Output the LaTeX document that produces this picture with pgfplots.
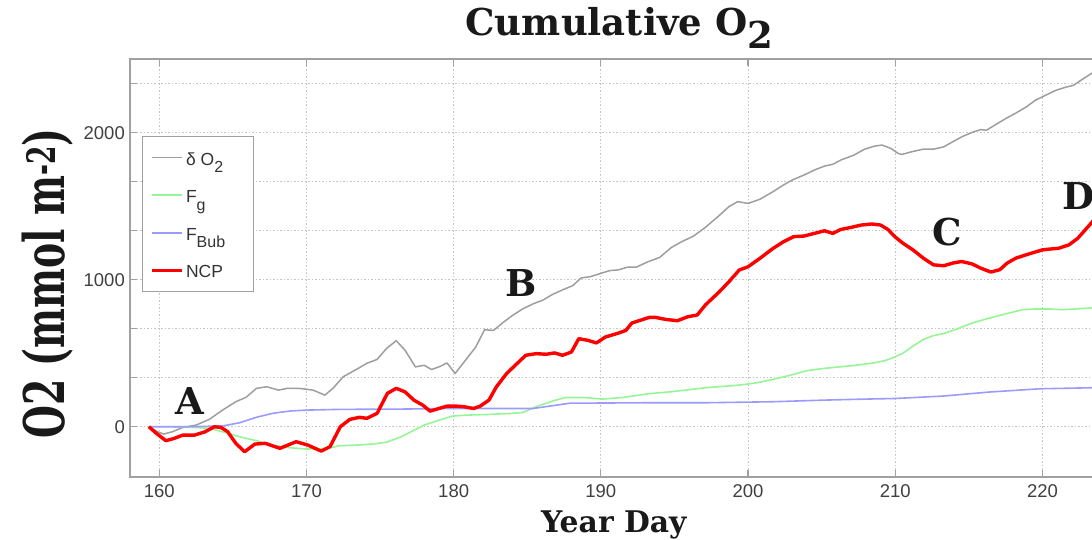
\documentclass[border=0pt]{standalone}
\usepackage{fontspec}
\usepackage{graphicx}
\usepackage{pgfplots}
\pgfplotsset{compat=1.18}
\setmainfont{DejaVu Serif}
\newfontfamily\sansf{Liberation Sans}
\definecolor{cgray}{RGB}{158,158,158}
\definecolor{cgreen}{RGB}{150,245,150}
\definecolor{cblue}{RGB}{155,155,255}
\definecolor{cred}{RGB}{255,0,0}
\definecolor{axgray}{RGB}{160,160,160}
\newcommand\lsub[1]{\raisebox{-0.42em}{\fontsize{16}{16}\selectfont #1}}

\pgfplotstableread{
d v
159.3 0
159.8 -45
160.45 -95
161.0 -80
161.6 -57
162.4 -57
163.1 -35
163.75 0
164.2 -5
164.65 -34
165.2 -113
165.8 -170
166.5 -118
167.2 -113
168.2 -147
169.3 -102
170.1 -125
171.0 -166
171.6 -136
172.3 0
172.95 50
173.6 64
174.1 57
174.8 91
175.5 227
176.1 261
176.7 237
177.3 181
177.9 147
178.4 106
179.0 124
179.55 140
180.2 140
180.7 136
181.35 124
181.8 140
182.4 181
182.9 271
183.6 362
184.3 429
184.9 486
185.6 497
186.3 493
186.85 502
187.4 486
188.0 508
188.5 599
189.1 588
189.7 570
190.3 610
191.2 637
191.7 655
192.1 705
192.8 728
193.3 744
193.7 744
194.4 730
195.2 721
195.9 748
196.55 760
197.1 828
198.05 918
198.7 986
199.4 1066
200.0 1088
200.8 1145
201.7 1213
202.4 1258
203.1 1293
203.8 1297
204.5 1315
205.2 1333
205.75 1315
206.3 1342
207.0 1356
207.7 1372
208.4 1379
209.0 1372
209.5 1342
210.0 1290
210.5 1250
211.2 1203
211.9 1147
212.6 1101
213.3 1095
213.9 1113
214.5 1124
215.2 1108
215.8 1079
216.5 1052
217.1 1068
217.6 1113
218.2 1147
219.1 1176
220.0 1203
220.45 1208
221.1 1214
221.8 1237
222.4 1282
222.8 1327
223.3 1384
223.8 1440
}\ncp

\pgfplotstableread{
d v
159.3 0
159.8 -30
160.3 -50
160.9 -34
161.6 -5
162.5 11
163.4 50
164.3 113
165.2 170
165.9 200
166.6 261
167.3 272
168.1 249
168.7 261
169.5 261
170.45 249
171.25 215
171.8 261
172.5 340
173.4 390
174.1 431
174.8 458
175.45 533
176.1 585
176.7 520
177.4 407
178.0 418
178.5 389
179.1 411
179.55 434
180.1 362
180.8 452
181.5 542
182.1 660
182.7 655
183.4 712
184.0 757
184.7 802
185.4 836
186.1 863
186.7 899
187.4 931
188.1 960
188.65 1012
189.3 1021
189.9 1040
190.6 1062
191.2 1067
191.8 1085
192.4 1085
193.2 1122
194.0 1152
194.8 1220
195.5 1259
196.3 1297
197.1 1356
198.0 1433
198.7 1497
199.3 1531
200.0 1519
200.8 1547
201.7 1599
202.4 1644
203.0 1678
203.8 1712
204.5 1746
205.2 1773
205.75 1785
206.3 1814
207.2 1848
207.9 1887
208.6 1909
209.1 1916
209.7 1893
210.2 1859
210.45 1852
211.1 1870
211.9 1888
212.6 1888
213.3 1904
213.9 1938
214.6 1976
215.3 2005
215.8 2021
216.2 2017
216.85 2057
217.5 2096
218.2 2134
218.9 2175
219.5 2220
220.2 2254
220.9 2288
221.6 2310
222.1 2322
222.6 2356
223.3 2401
223.8 2440
}\dox

\pgfplotstableread{
d v
161.0 0
162.5 -5
163.4 -11
164.3 -34
165.45 -68
166.6 -95
167.7 -125
168.9 -143
170.0 -152
171.4 -147
172.3 -129
173.4 -125
174.5 -118
175.45 -105
176.4 -70
177.0 -40
178.0 11
178.9 41
179.9 72
180.9 79
182.5 84
183.8 90
184.7 97
185.6 136
186.7 174
187.6 199
188.8 199
190.1 188
191.5 199
192.6 215
193.3 225
194.8 238
197.1 265
199.4 283
200.6 299
201.7 322
202.9 351
204.0 381
205.2 397
206.3 408
207.5 420
208.6 435
209.3 449
210.0 476
210.5 499
211.2 548
211.9 593
212.6 620
213.3 634
214.2 665
215.1 701
216.0 728
216.85 751
217.75 774
218.65 796
219.5 801
220.45 801
221.3 796
222.25 801
223.3 808
223.8 810
}\fg

\pgfplotstableread{
d v
159.3 0
162.0 0
164.3 5
165.45 27
166.6 64
167.7 91
168.9 107
170.0 113
172.3 118
176.4 120
180.0 124
185.4 124
187.9 160
193.3 163
197.1 163
201.7 170
205.2 181
208.0 188
210.0 192
213.3 209
216.4 236
219.8 258
223.3 265
223.8 266
}\fbub

\begin{document}
\begin{tikzpicture}
\begin{axis}[
  scale only axis, width=978.9pt, height=417.5pt,
  xmin=158, xmax=224.5, ymin=-340, ymax=2500,
  xtick={160,170,...,220},
  ytick={0,333.333,666.667,1000,1333.333,1666.667,2000,2333.333},
  yticklabels={0,,,1000,,,2000,},
  /pgf/number format/assume math mode=true,
  ticklabel style={font=\sansf\fontsize{18.5}{18.5}\selectfont, text=black!75, inner sep=0pt},
  yticklabel shift=4.8pt,
  xticklabel shift=8pt,
  tick align=inside,
  major tick length=7pt,
  tick style={axgray, line width=1.2pt},
  axis line style={axgray, line width=1.6pt},
  grid=major,
  major grid style={gray!45, line width=0.9pt, dash pattern=on 1.3pt off 2.2pt},
  title={Cumulative O\raisebox{-13pt}{2}},
  title style={at={(axis description cs:0.5,1.0419)}, anchor=base, font=\bfseries\fontsize{37}{40}\selectfont, text=black!90, inner sep=0pt},
  xlabel={Year Day},
  xlabel style={at={(axis description cs:0.4944,-0.1325)}, anchor=base, font=\bfseries\fontsize{29.8}{32}\selectfont, text=black!90, inner sep=0pt},
  ylabel={\resizebox{310pt}{\height}{O2 (mmol m\textsuperscript{-2})}},
  ylabel style={at={(axis description cs:-0.0841,0.463)}, anchor=center, font=\bfseries\fontsize{56}{60}\selectfont, text=black!90, inner sep=0pt},
  legend style={at={(axis description cs:0.012,0.817)}, anchor=north west,
    draw=axgray, line width=1.2pt, fill=white,
    font=\sansf\fontsize{17.5}{17.5}\selectfont, text=black!80,
    inner xsep=8pt, inner ysep=7pt, row sep=8.5pt,
    nodes={text height=22pt, text depth=7pt, inner ysep=0pt, inner xsep=2.5pt}},
  legend cell align=left,
  legend image code/.code={\draw[#1] (0pt,0pt) -- (30pt,0pt);},
]
\addplot[cgray, line width=1.5pt, line join=round] table[x=d,y=v] {\dox};
\addlegendentry{δ O\lsub{2}}
\addplot[cgreen, line width=1.6pt, line join=round] table[x=d,y=v] {\fg};
\addlegendentry{F\lsub{g}}
\addplot[cblue, line width=1.6pt, line join=round] table[x=d,y=v] {\fbub};
\addlegendentry{F\lsub{Bub}\hspace*{18pt}}
\addplot[cred, line width=3.4pt, line join=round] table[x=d,y=v] {\ncp};
\addlegendentry{NCP}
\node[font=\bfseries\fontsize{37}{40}\selectfont, text=black!90] at (axis cs:162.05,175) {A};
\node[font=\bfseries\fontsize{37}{40}\selectfont, text=black!90] at (axis cs:184.6,980) {B};
\node[font=\bfseries\fontsize{37}{40}\selectfont, text=black!90] at (axis cs:213.55,1325) {C};
\node[font=\bfseries\fontsize{37}{40}\selectfont, text=black!90] at (axis cs:222.45,1570) {D};
\end{axis}
\pgfresetboundingbox
\path[use as bounding box] ([shift={(-129.8pt,-62.3pt)}]current axis.south west) rectangle ([shift={(962.2pt,476.7pt)}]current axis.south west);
\end{tikzpicture}
\end{document}
